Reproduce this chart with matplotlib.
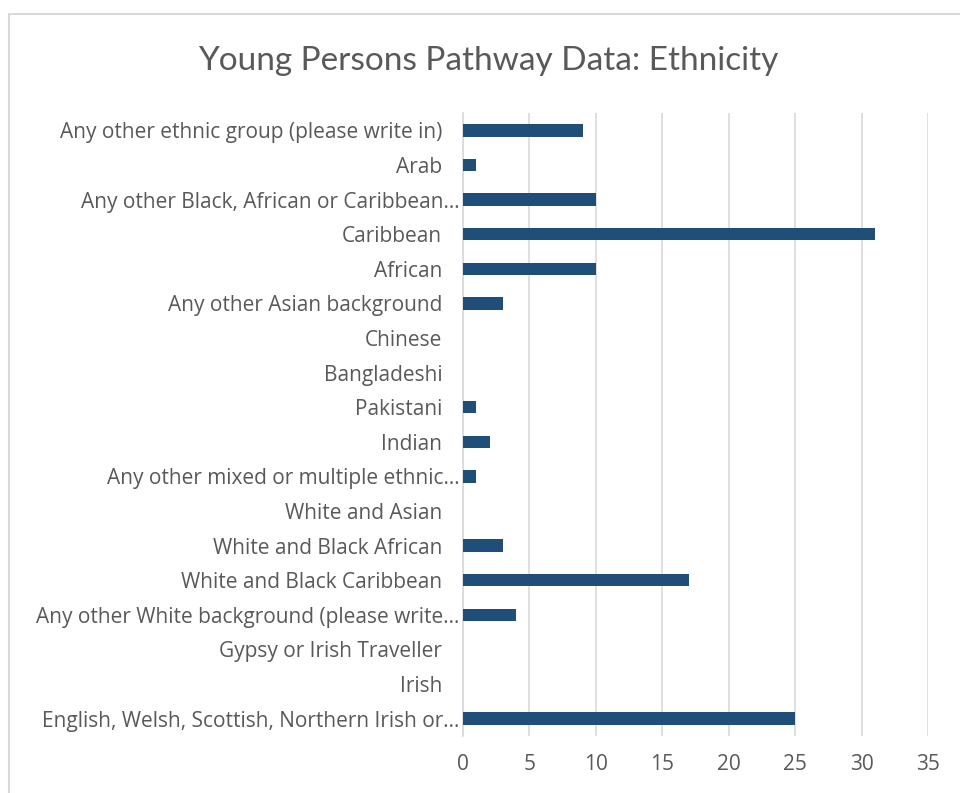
import matplotlib.pyplot as plt
import matplotlib.transforms as mtransforms
from matplotlib.patches import Rectangle

categories = [
    "English, Welsh, Scottish, Northern Irish or…",
    "Irish",
    "Gypsy or Irish Traveller",
    "Any other White background (please write…",
    "White and Black Caribbean",
    "White and Black African",
    "White and Asian",
    "Any other mixed or multiple ethnic…",
    "Indian",
    "Pakistani",
    "Bangladeshi",
    "Chinese",
    "Any other Asian background",
    "African",
    "Caribbean",
    "Any other Black, African or Caribbean…",
    "Arab",
    "Any other ethnic group (please write in)",
]
counts = [25, 0, 0, 4, 17, 3, 0, 1, 2, 1, 0, 0, 3, 10, 31, 10, 1, 9]
x_ticks = [0, 5, 10, 15, 20, 25, 30, 35]

text_col = "#595959"
bar_col = "#1f4e79"
plt.rcParams["font.family"] = ["Lato", "DejaVu Sans"]

fig = plt.figure(figsize=(9.6, 7.93), dpi=100)
ax = fig.add_axes([463 / 960, 1 - 736 / 793, (928 - 463) / 960, (736 - 113) / 793])

# chart frame (runs off the right and bottom edges)
fig.patches.append(Rectangle((9 / 960, -0.1), 1.2, 1 - 14 / 793 + 0.1,
                             transform=fig.transFigure, fill=False,
                             edgecolor="#d9d9d9", linewidth=1.5))

y = range(len(categories))
ax.barh(y, counts, height=0.36, color=bar_col, zorder=3)

ax.set_xlim(0, 35)
ax.set_ylim(-0.5, len(categories) - 0.5)
ax.set_xticks(x_ticks)
ax.set_yticks(list(y))
ax.set_yticklabels(categories)
ax.grid(axis="x", color="#d9d9d9", linewidth=1.2, zorder=0)
ax.tick_params(axis="both", length=0, colors=text_col, labelsize=15,
               labelfontfamily="Open Sans")
ax.tick_params(axis="y", pad=15)
ax.tick_params(axis="x", pad=13)

# truncated labels sit closer to the axis
shift = mtransforms.ScaledTranslation(17 / 100, 0, fig.dpi_scale_trans)
for lbl in ax.get_yticklabels():
    if lbl.get_text().endswith("…"):
        lbl.set_transform(lbl.get_transform() + shift)

for s in ["top", "right", "bottom"]:
    ax.spines[s].set_visible(False)
ax.spines["left"].set_color("#d9d9d9")
ax.spines["left"].set_linewidth(1.2)

fig.text(488 / 960, 1 - 61 / 793, "Young Persons Pathway Data: Ethnicity",
         ha="center", va="center", fontsize=24, color=text_col)

fig.savefig("out.png", dpi=100)
